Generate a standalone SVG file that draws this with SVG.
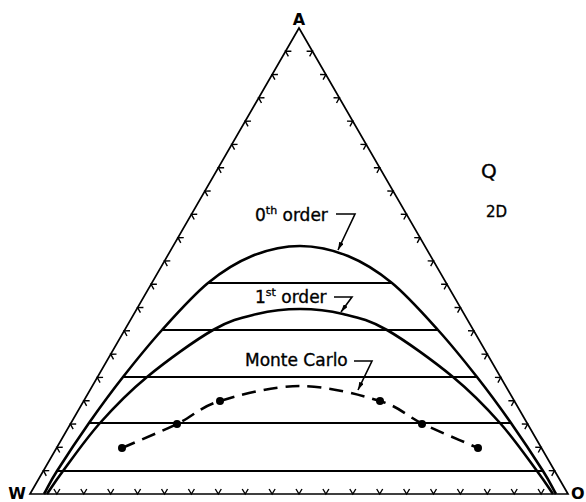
<svg xmlns="http://www.w3.org/2000/svg" width="586" height="502" viewBox="0 0 586 502">
<style>
.edge{fill:none;stroke:#000;stroke-width:1.7}
.curve{fill:none;stroke:#000;stroke-width:2.6;stroke-linejoin:round}
.tie{stroke:#000;stroke-width:2}
.mc{fill:none;stroke:#000;stroke-width:2.6;stroke-dasharray:14 8}
.tick{fill:none;stroke:#000;stroke-width:1.4}
.lead{fill:none;stroke:#000;stroke-width:1.6;marker-end:url(#ah)}
.lbl{font-family:"DejaVu Sans",sans-serif;font-size:17px;fill:#000;stroke:#000;stroke-width:0.35}
.corner{font-family:"DejaVu Sans",sans-serif;font-size:16px;font-weight:bold;fill:#000}
</style>
<defs>
<path id="tk" d="M-3,-5 L0,0 L3,-5" class="tick"/>
<marker id="ah" viewBox="0 0 10 6" refX="10" refY="3" markerWidth="5" markerHeight="3" orient="auto" markerUnits="strokeWidth">
<path d="M0,0 L10,3 L0,6 Z" fill="#000"/>
</marker>
</defs>
<rect width="586" height="502" fill="#fff"/>
<g id="triangle">
<path class="edge" d="M30,494 L299,28 L568,494 Z"/>
<g id="ticks-bottom">
<use href="#tk" x="56.9" y="494"/><use href="#tk" x="83.8" y="494"/><use href="#tk" x="110.7" y="494"/><use href="#tk" x="137.6" y="494"/><use href="#tk" x="164.5" y="494"/><use href="#tk" x="191.4" y="494"/><use href="#tk" x="218.3" y="494"/><use href="#tk" x="245.2" y="494"/><use href="#tk" x="272.1" y="494"/><use href="#tk" x="299" y="494"/><use href="#tk" x="325.9" y="494"/><use href="#tk" x="352.8" y="494"/><use href="#tk" x="379.7" y="494"/><use href="#tk" x="406.6" y="494"/><use href="#tk" x="433.5" y="494"/><use href="#tk" x="460.4" y="494"/><use href="#tk" x="487.3" y="494"/><use href="#tk" x="514.2" y="494"/><use href="#tk" x="541.1" y="494"/>
</g>
<g id="ticks-left">
<use href="#tk" transform="translate(43.45,470.7) rotate(120)"/><use href="#tk" transform="translate(56.9,447.4) rotate(120)"/><use href="#tk" transform="translate(70.35,424.1) rotate(120)"/><use href="#tk" transform="translate(83.8,400.8) rotate(120)"/><use href="#tk" transform="translate(97.25,377.5) rotate(120)"/><use href="#tk" transform="translate(110.7,354.2) rotate(120)"/><use href="#tk" transform="translate(124.15,330.9) rotate(120)"/><use href="#tk" transform="translate(137.6,307.6) rotate(120)"/><use href="#tk" transform="translate(151.05,284.3) rotate(120)"/><use href="#tk" transform="translate(164.5,261) rotate(120)"/><use href="#tk" transform="translate(177.95,237.7) rotate(120)"/><use href="#tk" transform="translate(191.4,214.4) rotate(120)"/><use href="#tk" transform="translate(204.85,191.1) rotate(120)"/><use href="#tk" transform="translate(218.3,167.8) rotate(120)"/><use href="#tk" transform="translate(231.75,144.5) rotate(120)"/><use href="#tk" transform="translate(245.2,121.2) rotate(120)"/><use href="#tk" transform="translate(258.65,97.9) rotate(120)"/><use href="#tk" transform="translate(272.1,74.6) rotate(120)"/><use href="#tk" transform="translate(285.55,51.3) rotate(120)"/>
</g>
<g id="ticks-right">
<use href="#tk" transform="translate(554.55,470.7) rotate(-120)"/><use href="#tk" transform="translate(541.1,447.4) rotate(-120)"/><use href="#tk" transform="translate(527.65,424.1) rotate(-120)"/><use href="#tk" transform="translate(514.2,400.8) rotate(-120)"/><use href="#tk" transform="translate(500.75,377.5) rotate(-120)"/><use href="#tk" transform="translate(487.3,354.2) rotate(-120)"/><use href="#tk" transform="translate(473.85,330.9) rotate(-120)"/><use href="#tk" transform="translate(460.4,307.6) rotate(-120)"/><use href="#tk" transform="translate(446.95,284.3) rotate(-120)"/><use href="#tk" transform="translate(433.5,261) rotate(-120)"/><use href="#tk" transform="translate(420.05,237.7) rotate(-120)"/><use href="#tk" transform="translate(406.6,214.4) rotate(-120)"/><use href="#tk" transform="translate(393.15,191.1) rotate(-120)"/><use href="#tk" transform="translate(379.7,167.8) rotate(-120)"/><use href="#tk" transform="translate(366.25,144.5) rotate(-120)"/><use href="#tk" transform="translate(352.8,121.2) rotate(-120)"/><use href="#tk" transform="translate(339.35,97.9) rotate(-120)"/><use href="#tk" transform="translate(325.9,74.6) rotate(-120)"/><use href="#tk" transform="translate(312.45,51.3) rotate(-120)"/>
</g>
</g>
<g id="tie-lines">
<line class="tie" x1="208" y1="283" x2="392" y2="283"/>
<line class="tie" x1="162" y1="330" x2="438" y2="330"/>
<line class="tie" x1="123" y1="377" x2="477" y2="377"/>
<line class="tie" x1="89" y1="423" x2="511" y2="423"/>
<line class="tie" x1="57" y1="471" x2="543" y2="471"/>
</g>
<g id="curve-0th">
<path class="curve" d="M44,494 C48.3,486.3 49.5,482.8 57,471 C64.5,459.2 78,438.7 89,423 C100,407.3 110.8,392.5 123,377 C135.2,361.5 147.8,345.7 162,330 C176.2,314.3 193,295.3 208,283 C223,270.7 236.7,262.2 252,256 C267.3,249.8 284,246 300,246 C316,246 332.7,249.8 348,256 C363.3,262.2 377,270.7 392,283 C407,295.3 423.8,314.3 438,330 C452.2,345.7 464.8,361.5 477,377 C489.2,392.5 500,407.3 511,423 C522,438.7 535.5,459.2 543,471 C550.5,482.8 551.7,486.3 556,494"/>
</g>
<g id="curve-1st">
<path class="curve" d="M47,494 C52.3,486.3 54.2,482.8 63,471 C71.8,459.2 86,438.7 100,423 C114,407.3 128.2,392.5 147,377 C165.8,361.5 194.7,340.5 213,330 C231.3,319.5 242.5,317.5 257,314 C271.5,310.5 285.7,309 300,309 C314.3,309 328.5,310.5 343,314 C357.5,317.5 368.7,319.5 387,330 C405.3,340.5 434.2,361.5 453,377 C471.8,392.5 486,407.3 500,423 C514,438.7 528.2,459.2 537,471 C545.8,482.8 547.7,486.3 553,494"/>
</g>
<g id="curve-monte-carlo">
<path class="mc" d="M122,448 C140.3,440 160.7,431.8 177,424 C193.3,416.2 199.5,407.3 220,401 C240.5,394.7 273.3,386 300,386 C326.7,386 359.5,394.7 380,401 C400.5,407.3 406.7,416.2 423,424 C439.3,431.8 459.7,440 478,448"/>
<g fill="#000">
<circle cx="122" cy="448" r="4"/><circle cx="177" cy="424" r="4"/><circle cx="220" cy="401" r="4"/>
<circle cx="380" cy="401" r="4"/><circle cx="422" cy="424" r="4"/><circle cx="478" cy="448" r="4"/>
</g>
</g>
<g id="connectors">
<path class="lead" d="M336,214 L355,214 L338,250"/>
<path class="lead" d="M334,297 L352,297 L341,312"/>
<path class="lead" d="M354,361 L372,361 L358,390"/>
</g>
<g id="labels">
<text class="corner" x="299" y="25" text-anchor="middle">A</text>
<text class="corner" x="26" y="499" text-anchor="end">W</text>
<text class="corner" x="571" y="499">O</text>
<text class="lbl" x="481" y="178" style="font-size:20px">Q</text>
<text class="lbl" x="486" y="217" style="font-size:15px">2D</text>
<text class="lbl" x="255" y="221">0<tspan dy="-7" style="font-size:11px">th</tspan><tspan dy="7"> order</tspan></text>
<text class="lbl" x="255" y="303">1<tspan dy="-7" style="font-size:11px">st</tspan><tspan dy="7"> order</tspan></text>
<text class="lbl" x="245" y="366">Monte Carlo</text>
</g>
</svg>
